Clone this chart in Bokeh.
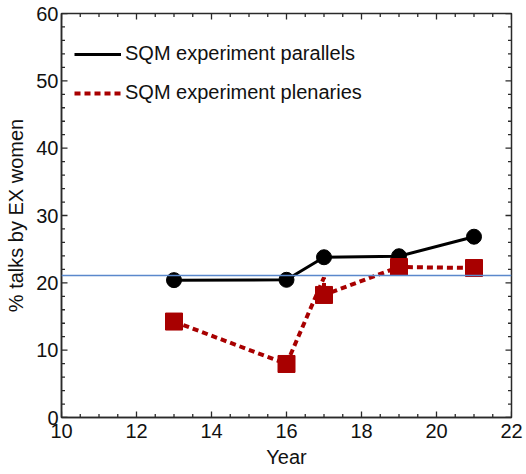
import numpy as np
from bokeh.plotting import figure
from bokeh.models import SingleIntervalTicker, Span, Legend, LegendItem, Range1d
from bokeh.embed import file_html
from bokeh.resources import INLINE

# Data
years_par = [13, 16, 17, 19, 21]
parallels = [20.4, 20.45, 23.8, 23.95, 26.85]
years_plen = [13, 16, 17, 19, 21]
plenaries = [14.25, 7.95, 18.2, 22.35, 22.2]
# line path of plenaries (the drawn line overshoots at year 17 in the original)
years_plen_line = [13, 16, 17, 17, 19, 21]
plenaries_line = [14.25, 7.95, 20.8, 18.2, 22.35, 22.2]
reference_level = 21.1
label_par = "SQM experiment parallels"
label_plen = "SQM experiment plenaries"

X0, X1, XMAJ, XMIN = 10, 22, 2, 0.5
Y0, Y1, YMAJ, YMIN = 0, 60, 10, 2

FONT = "Liberation Sans"
FS = "20px"
AX = "#2a2a2a"
RED = "#a80000"

W, H = 526, 474
BL, BR, BT, BB = 61, 15, 13, 57
FW, FH = W - BL - BR, H - BT - BB

p = figure(width=W, height=H, output_backend="svg", toolbar_location=None,
           x_range=Range1d(X0, X1), y_range=Range1d(Y0, Y1),
           min_border_left=BL, min_border_right=BR, min_border_top=BT, min_border_bottom=BB,
           x_axis_label="Year", y_axis_label="% talks by EX women")
p.grid.visible = False
p.outline_line_color = AX
p.outline_line_width = 1.5
p.background_fill_color = "white"
p.border_fill_color = "white"

p.xaxis.ticker = SingleIntervalTicker(interval=XMAJ, num_minor_ticks=4)
p.yaxis.ticker = SingleIntervalTicker(interval=YMAJ, num_minor_ticks=5)

for ax in p.xaxis + p.yaxis:
    ax.axis_line_color = AX
    ax.axis_line_width = 1.5
    ax.major_tick_in = 0
    ax.major_tick_out = 0
    ax.minor_tick_in = 0
    ax.minor_tick_out = 0
    ax.major_label_text_font = FONT
    ax.major_label_text_font_size = FS
    ax.major_label_text_color = "#111111"
    ax.axis_label_text_font = FONT
    ax.axis_label_text_font_size = FS
    ax.axis_label_text_font_style = "normal"
    ax.axis_label_text_color = "#111111"
p.xaxis.major_label_standoff = 6
p.xaxis.axis_label_standoff = 5
p.yaxis.major_label_standoff = 3
p.yaxis.axis_label_standoff = 6

# inward ticks on all four sides, lengths converted from pixels to data units
xpx = (X1 - X0) / FW
ypx = (Y1 - Y0) / FH
xmaj = np.arange(X0, X1 + 1e-9, XMAJ)
xmin = np.array([v for v in np.arange(X0, X1 + 1e-9, XMIN) if v % XMAJ])
ymaj = np.arange(Y0, Y1 + 1e-9, YMAJ)
ymin = np.array([v for v in np.arange(Y0, Y1 + 1e-9, YMIN) if v % YMAJ])
for ticks, L in ((xmaj, 6), (xmin, 3.5)):
    n = len(ticks)
    p.segment(ticks, [Y0] * n, ticks, [Y0 + L * ypx] * n, line_color=AX, line_width=1.3)
    p.segment(ticks, [Y1] * n, ticks, [Y1 - L * ypx] * n, line_color=AX, line_width=1.3)
for ticks, L in ((ymaj, 6), (ymin, 3.5)):
    n = len(ticks)
    p.segment([X0] * n, ticks, [X0 + L * xpx] * n, ticks, line_color=AX, line_width=1.3)
    p.segment([X1] * n, ticks, [X1 - L * xpx] * n, ticks, line_color=AX, line_width=1.3)

p.add_layout(Span(location=reference_level, dimension="width",
                  line_color="#5a88cc", line_width=1.5))

r_par = p.line(years_par, parallels, line_color="black", line_width=3)
p.scatter(years_par, parallels, marker="circle", size=15, fill_color="black", line_color="black")

r_plen = p.line(years_plen_line, plenaries_line, line_color=RED, line_width=4, line_dash="6 4")
p.scatter(years_plen, plenaries, marker="square", size=17, fill_color=RED, line_color=RED)

legend = Legend(items=[LegendItem(label=label_par, renderers=[r_par]),
                       LegendItem(label=label_plen, renderers=[r_plen])],
                location=(13, 313))
legend.border_line_color = None
legend.background_fill_alpha = 0
legend.margin = 0
legend.padding = 12
legend.spacing = 16
legend.glyph_width = 47
legend.glyph_height = 20
legend.label_height = 20
legend.label_standoff = 4
legend.label_text_font = FONT
legend.label_text_font_size = FS
legend.label_text_color = "#111111"
p.add_layout(legend, "center")

open("out.html", "w").write(file_html(p, INLINE))
